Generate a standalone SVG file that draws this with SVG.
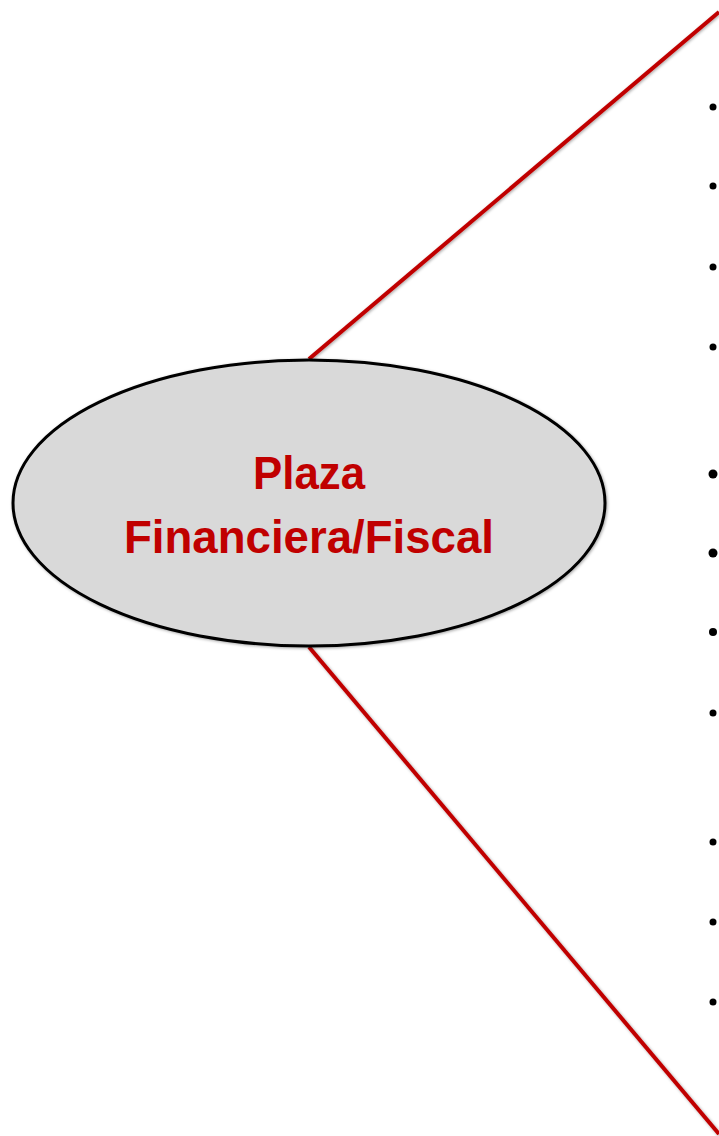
<svg xmlns="http://www.w3.org/2000/svg" width="719" height="1136" viewBox="0 0 719 1136">
<defs>
<filter id="sh" x="-10%" y="-10%" width="120%" height="120%">
<feGaussianBlur in="SourceAlpha" stdDeviation="1.5"/>
<feOffset dx="1" dy="1" result="b"/>
<feFlood flood-color="#000" flood-opacity="0.35"/>
<feComposite in2="b" operator="in"/>
<feMerge><feMergeNode/><feMergeNode in="SourceGraphic"/></feMerge>
</filter>
</defs>
<style>
.conn{stroke:#c00000;stroke-width:4;fill:none}
.node{fill:#d9d9d9;stroke:#000;stroke-width:3}
.lbl{font-family:"Liberation Sans",Arial,sans-serif;font-weight:bold;font-size:46px;fill:#c00000;text-anchor:middle}
.bul{fill:#000}
</style>
<rect width="719" height="1136" fill="#fff"/>
<g id="connectors" filter="url(#sh)">
<line class="conn" x1="309" y1="359" x2="719" y2="12"/>
<line class="conn" x1="309" y1="647" x2="719" y2="1134"/>
</g>
<g id="node-plaza">
<ellipse class="node" cx="309" cy="503" rx="296" ry="143" filter="url(#sh)"/>
<text class="lbl" x="309" y="489" textLength="112" lengthAdjust="spacingAndGlyphs">Plaza</text>
<text class="lbl" x="309" y="553" textLength="370" lengthAdjust="spacingAndGlyphs">Financiera/Fiscal</text>
</g>
<g id="bullets">
<circle class="bul" cx="713" cy="107" r="3.5"/>
<circle class="bul" cx="713" cy="186" r="3.5"/>
<circle class="bul" cx="713" cy="267" r="3.5"/>
<circle class="bul" cx="713" cy="347" r="3.5"/>
<circle class="bul" cx="713" cy="474" r="4.5"/>
<circle class="bul" cx="713" cy="553" r="4.5"/>
<circle class="bul" cx="713" cy="632" r="4"/>
<circle class="bul" cx="713" cy="713" r="3.5"/>
<circle class="bul" cx="713" cy="842" r="3.5"/>
<circle class="bul" cx="713" cy="922" r="3.5"/>
<circle class="bul" cx="713" cy="1002" r="3.5"/>
</g>
</svg>
